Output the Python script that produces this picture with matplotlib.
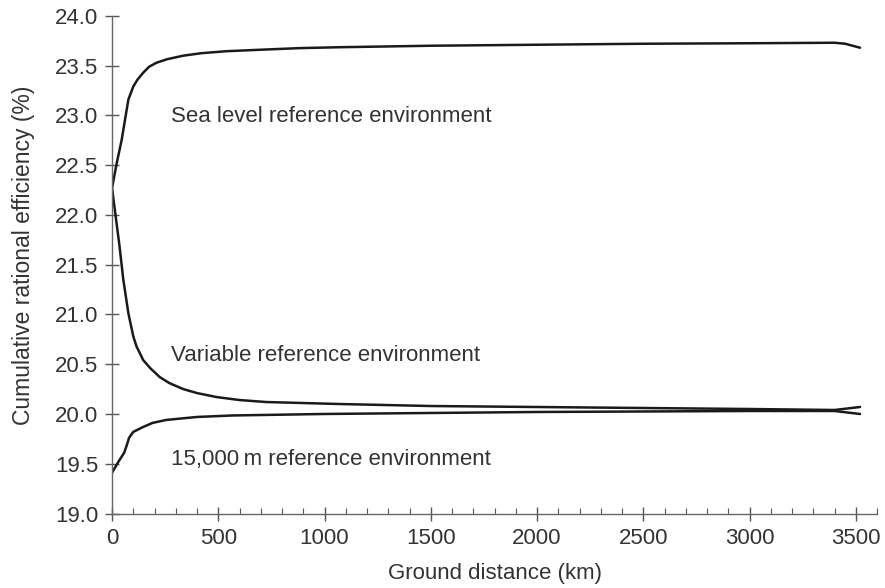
import matplotlib
matplotlib.use("Agg")
import matplotlib.pyplot as plt
from matplotlib.ticker import MultipleLocator, FormatStrFormatter

plt.rcParams['font.family'] = ['Liberation Sans', 'DejaVu Sans']

# Sea level reference environment
sea_x = [0, 22, 45, 66, 77, 100, 120, 147, 175, 210, 260, 335, 420, 538, 700, 883, 1070, 1500, 2000, 2500, 3000, 3400, 3450, 3520]
sea_y = [22.27, 22.52, 22.75, 23.02, 23.16, 23.29, 23.36, 23.43, 23.49, 23.53, 23.565, 23.60, 23.625, 23.645, 23.66, 23.676, 23.685, 23.70, 23.71, 23.72, 23.725, 23.73, 23.72, 23.68]

# Variable reference environment
var_x = [0, 15, 35, 53, 77, 100, 115, 147, 180, 225, 270, 335, 400, 492, 600, 726, 1072, 1500, 2000, 2500, 3000, 3400, 3520]
var_y = [22.27, 22.02, 21.69, 21.35, 21.01, 20.78, 20.68, 20.54, 20.46, 20.37, 20.31, 20.25, 20.21, 20.17, 20.14, 20.12, 20.10, 20.08, 20.07, 20.06, 20.05, 20.04, 20.07]

# 15,000 m reference environment
alt_x = [0, 30, 57, 70, 80, 100, 142, 190, 255, 400, 567, 1000, 2000, 3000, 3400, 3520]
alt_y = [19.41, 19.52, 19.61, 19.69, 19.76, 19.82, 19.865, 19.91, 19.94, 19.97, 19.985, 20.0, 20.02, 20.03, 20.03, 20.0]

labels = ["Sea level reference environment",
          "Variable reference environment",
          "15,000\u2009m reference environment"]
label_x = [279, 279, 279]
label_y = [22.99, 20.59, 19.54]

fig = plt.figure(figsize=(8.85, 5.88), dpi=100)
ax = fig.add_axes([0.1266, 0.1267, 0.8644, 0.8463])

line_kw = dict(color='#1a1a1a', lw=1.8, solid_capstyle='round', solid_joinstyle='round')
ax.plot(sea_x, sea_y, **line_kw)
ax.plot(var_x, var_y, **line_kw)
ax.plot(alt_x, alt_y, **line_kw)

txt_color = '#333333'
fs = 16
for t, lx, ly in zip(labels, label_x, label_y):
    ax.text(lx, ly, t, fontsize=fs, color=txt_color, va='center', ha='left',
            family=['Liberation Sans', 'DejaVu Sans'])

ax.set_xlim(0, 3600)
ax.set_ylim(19.0, 24.0)
ax.xaxis.set_major_locator(MultipleLocator(500))
ax.xaxis.set_minor_locator(MultipleLocator(100))
ax.yaxis.set_major_locator(MultipleLocator(0.5))
ax.yaxis.set_major_formatter(FormatStrFormatter('%.1f'))

for s in ['top', 'right']:
    ax.spines[s].set_visible(False)
for s in ['left', 'bottom']:
    ax.spines[s].set_color('#666666')
    ax.spines[s].set_linewidth(1.0)

ax.tick_params(axis='both', which='major', direction='inout', length=10, width=1.0,
               color='#555555', labelsize=fs, labelcolor=txt_color)
ax.tick_params(axis='x', which='major', pad=5.5)
ax.tick_params(axis='y', which='major', pad=5)
ax.tick_params(axis='x', which='minor', direction='in', length=4, width=0.8, color='#555555')

ax.set_xlabel('Ground distance (km)', fontsize=fs, color=txt_color, labelpad=10)
ax.set_ylabel('Cumulative rational efficiency (%)', fontsize=fs + 0.5, color=txt_color)
ax.yaxis.set_label_coords(-0.101, 0.518)

fig.savefig('out.png', dpi=100, facecolor='white')
